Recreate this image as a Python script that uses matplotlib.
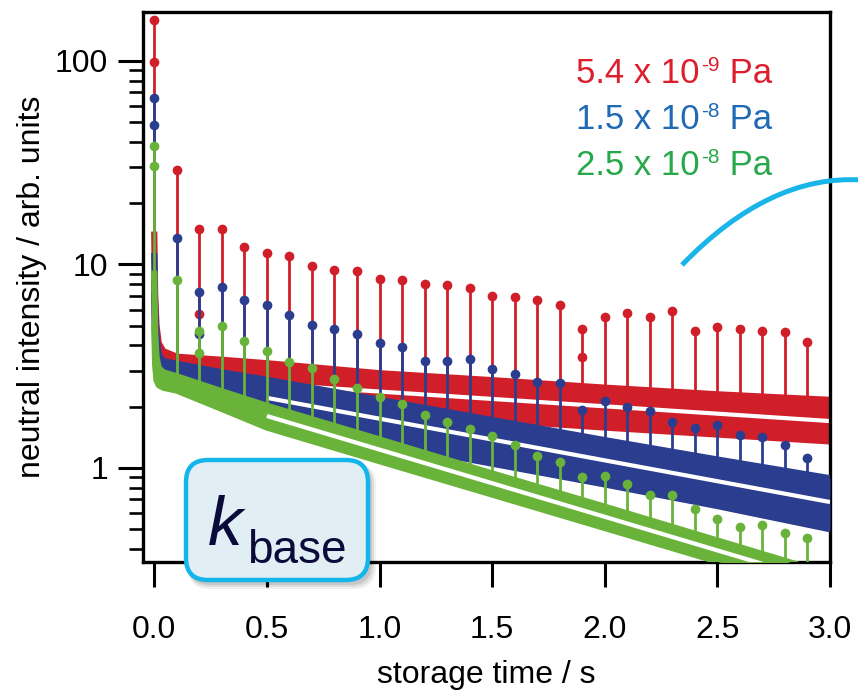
import numpy as np
import matplotlib
matplotlib.use("Agg")
import matplotlib.pyplot as plt
from matplotlib.patches import FancyBboxPatch, PathPatch
from matplotlib.path import Path
from matplotlib.transforms import IdentityTransform
from matplotlib.ticker import LogLocator, NullFormatter, FixedLocator, FixedFormatter, FormatStrFormatter

plt.rcParams['font.family'] = ['Liberation Sans', 'DejaVu Sans']

# ---------------- data ----------------
label_main = ["5.4 x 10", "1.5 x 10", "2.5 x 10"]
label_exp = ["-9", "-8", "-8"]
label_unit = " Pa"

# envelope of the dense noisy signal
t_env = [0.0, 0.004, 0.01, 0.02, 0.04, 0.1, 0.3, 0.5, 1.0, 1.5, 2.0, 2.5, 3.0]
red_upper = [14, 7.0, 5.0, 4.1, 3.75, 3.52, 3.4, 3.27, 2.92, 2.70, 2.48, 2.30, 2.16]
red_lower = [8, 4.5, 3.5, 2.9, 2.75, 2.65, 2.45, 2.08, 1.88, 1.72, 1.58, 1.46, 1.35]
blue_upper = [11, 6.0, 4.4, 3.6, 3.35, 3.25, 2.95, 2.71, 2.16, 1.72, 1.37, 1.10, 0.89]
blue_lower = [7, 4.0, 3.2, 2.75, 2.6, 2.5, 2.0, 1.68, 1.33, 1.05, 0.83, 0.65, 0.50]
green_upper = [9, 4.6, 3.5, 3.1, 2.95, 2.82, 2.38, 2.02, 1.38, 0.94, 0.645, 0.44, 0.30]
green_lower = [5, 3.2, 2.7, 2.55, 2.48, 2.40, 1.95, 1.58, 1.08, 0.74, 0.507, 0.347, 0.237]

# periodic spikes
spike_t = [0.1, 0.2, 0.3, 0.4, 0.5, 0.6, 0.7, 0.8, 0.9, 1.0,
           1.1, 1.2, 1.3, 1.4, 1.5, 1.6, 1.7, 1.8, 1.9, 2.0,
           2.1, 2.2, 2.3, 2.4, 2.5, 2.6, 2.7, 2.8, 2.9]
red_spike = [29.1, 14.9, 14.9, 12.2, 11.4, 11.0, 9.84, 9.43, 9.26, 8.5,
             8.36, 7.99, 7.90, 7.69, 7.03, 6.90, 6.69, 6.35, 4.84, 5.50,
             5.75, 5.54, 5.93, 4.71, 4.93, 4.80, 4.71, 4.66, 4.16]
blue_spike = [13.5, 7.35, 7.78, 6.67, 6.35, 5.63, 5.05, 4.84, 4.55, 4.12,
              3.93, 3.36, 3.37, 3.44, 3.05, 2.90, 2.65, 2.62, 1.92, 2.13,
              1.99, 1.91, 1.68, 1.58, 1.62, 1.46, 1.42, 1.29, 1.12]
green_spike = [8.42, 4.70, 4.97, 4.22, 3.74, 3.33, 3.11, 2.73, 2.46, 2.23,
               2.06, 1.82, 1.69, 1.55, 1.44, 1.29, 1.15, 1.07, 0.90, 0.917,
               0.83, 0.737, 0.737, 0.627, 0.563, 0.515, 0.525, 0.478, 0.451]

# extra points on some spikes
red_extra_t, red_extra_v = [0.2, 1.9], [5.71, 3.50]
blue_extra_t, blue_extra_v = [0.2], [4.55]
green_extra_t, green_extra_v = [0.2], [3.66]

# points at t = 0
red_t0 = [159, 98.6]
blue_t0 = [66, 48.7]
green_t0 = [38.4, 30.6]

# exponential fits (white lines)
fit_t = [0.5, 3.0]
red_fit = [2.58, 1.70]
blue_fit = [2.21, 0.68]
green_fit = [1.80, 0.269]

band_colors = ["#d11f2a", "#2b3d8f", "#69b33b"]
text_colors = ["#dc1e2d", "#1f6ab5", "#27a84a"]

# ---------------- figure ----------------
W, H = 858, 690
fig = plt.figure(figsize=(W / 100, H / 100), dpi=100)
ax = fig.add_axes([143 / W, 1 - 562 / H, (830 - 143) / W, (562 - 12) / H])

series = [
    (red_upper, red_lower, red_spike, red_extra_t, red_extra_v, red_t0, red_fit),
    (blue_upper, blue_lower, blue_spike, blue_extra_t, blue_extra_v, blue_t0, blue_fit),
    (green_upper, green_lower, green_spike, green_extra_t, green_extra_v, green_t0, green_fit),
]

z = 2
ms = 7.0
for (up, lo, sp, et, ev, t0v, fit), col in zip(series, band_colors):
    up = np.array(up); lo = np.array(lo)
    center_log = 0.5 * (np.log10(up) + np.log10(lo))
    base = 10 ** np.interp(spike_t, t_env, center_log)
    ax.fill_between(t_env, lo, up, color=col, lw=0, zorder=z)
    # edges drawn thick to mimic the width of the scattered points
    ax.plot(t_env, up, color=col, lw=4.5, zorder=z, solid_joinstyle='round')
    ax.plot(t_env, lo, color=col, lw=4.5, zorder=z, solid_joinstyle='round')
    ax.vlines(spike_t, base, sp, color=col, lw=2.0, zorder=z + 0.1)
    ax.plot(spike_t, sp, 'o', color=col, ms=ms, mew=0, zorder=z + 0.2)
    ax.plot(et, ev, 'o', color=col, ms=ms, mew=0, zorder=z + 0.2)
    ax.vlines([0.0], [10 ** center_log[0]], [max(t0v)], color=col, lw=2.0, zorder=z + 0.1)
    ax.plot([0.0] * len(t0v), t0v, 'o', color=col, ms=ms, mew=0, zorder=z + 0.2, clip_on=False)
    ax.plot(fit_t, fit, color='white', lw=3.0, zorder=z + 0.15, solid_capstyle='butt')
    z += 1

ax.set_yscale('log')
ax.set_xlim(-0.05, 3.0)
ax.set_ylim(0.345, 174)

ax.xaxis.set_major_locator(FixedLocator([0.0, 0.5, 1.0, 1.5, 2.0, 2.5, 3.0]))
ax.xaxis.set_major_formatter(FormatStrFormatter('%.1f'))
ax.yaxis.set_major_locator(FixedLocator([1, 10, 100]))
ax.yaxis.set_major_formatter(FixedFormatter(["1", "10", "100"]))
ax.yaxis.set_minor_locator(LogLocator(base=10, subs=np.arange(2, 10)))
ax.yaxis.set_minor_formatter(NullFormatter())

for s in ax.spines.values():
    s.set_linewidth(2.4)
ax.tick_params(axis='both', which='major', direction='out', length=18, width=2.2,
               labelsize=23, top=False, right=False)
ax.tick_params(axis='x', which='major', pad=20)
ax.tick_params(axis='y', which='major', pad=7)
ax.tick_params(axis='y', which='minor', direction='out', length=10, width=1.9, right=False)
ax.tick_params(axis='x', which='minor', bottom=False)

ax.set_xlabel("storage time / s", fontsize=23, labelpad=11)
ax.set_ylabel("neutral intensity / arb. units", fontsize=23, labelpad=6)

# legend-like colored labels with small raised exponents, right-aligned at x=772
fig.canvas.draw()
renderer = fig.canvas.get_renderer()
ident = IdentityTransform()
for i, (m, e, col) in enumerate(zip(label_main, label_exp, text_colors)):
    y_base = H - (83 + 46 * i)
    pieces = [(m, 25, 0), (e, 15, 12), (label_unit, 25, 0)]
    texts = []
    x = 0
    for s, fs, dy in pieces:
        t = fig.text(x, y_base + dy, s, color=col, fontsize=fs, ha='left', va='baseline',
                     transform=ident)
        x = t.get_window_extent(renderer).x1 + (2 if s == m else 0)
        texts.append(t)
    shift = 772 - x
    for t in texts:
        px, py = t.get_position()
        t.set_position((px + shift, py))

# k_base box with shadow
for k, a in [(6, 0.06), (4, 0.08), (2, 0.10)]:
    shadow = FancyBboxPatch((186 + k / 2 + 2, H - 580 - k / 2 - 3), 182, 120,
                            boxstyle="round,pad=%d,rounding_size=22" % (k // 2),
                            transform=ident, facecolor='#000000', alpha=a, lw=0, zorder=10)
    fig.add_artist(shadow)
box = FancyBboxPatch((186, H - 580), 182, 120, boxstyle="round,pad=0,rounding_size=22",
                     transform=ident, facecolor='#e1eff4', edgecolor='#13b5ea', lw=3.2, zorder=11)
fig.add_artist(box)
fig.text(208, H - 545, "k", style='italic', fontsize=50, color='#0b0b3b',
         ha='left', va='baseline', zorder=12, transform=ident)
fig.text(247, H - 563, "base", fontsize=33, color='#0b0b3b',
         ha='left', va='baseline', zorder=12, transform=ident)

# cyan arc decoration
verts = [(682, H - 265), (740, H - 205), (800, H - 176), (862, H - 180)]
arc = PathPatch(Path(verts, [Path.MOVETO, Path.CURVE4, Path.CURVE4, Path.CURVE4]),
                transform=ident, facecolor='none', edgecolor='#19b4e8', lw=3.6, zorder=12)
fig.add_artist(arc)

fig.savefig("out.png", dpi=100)
